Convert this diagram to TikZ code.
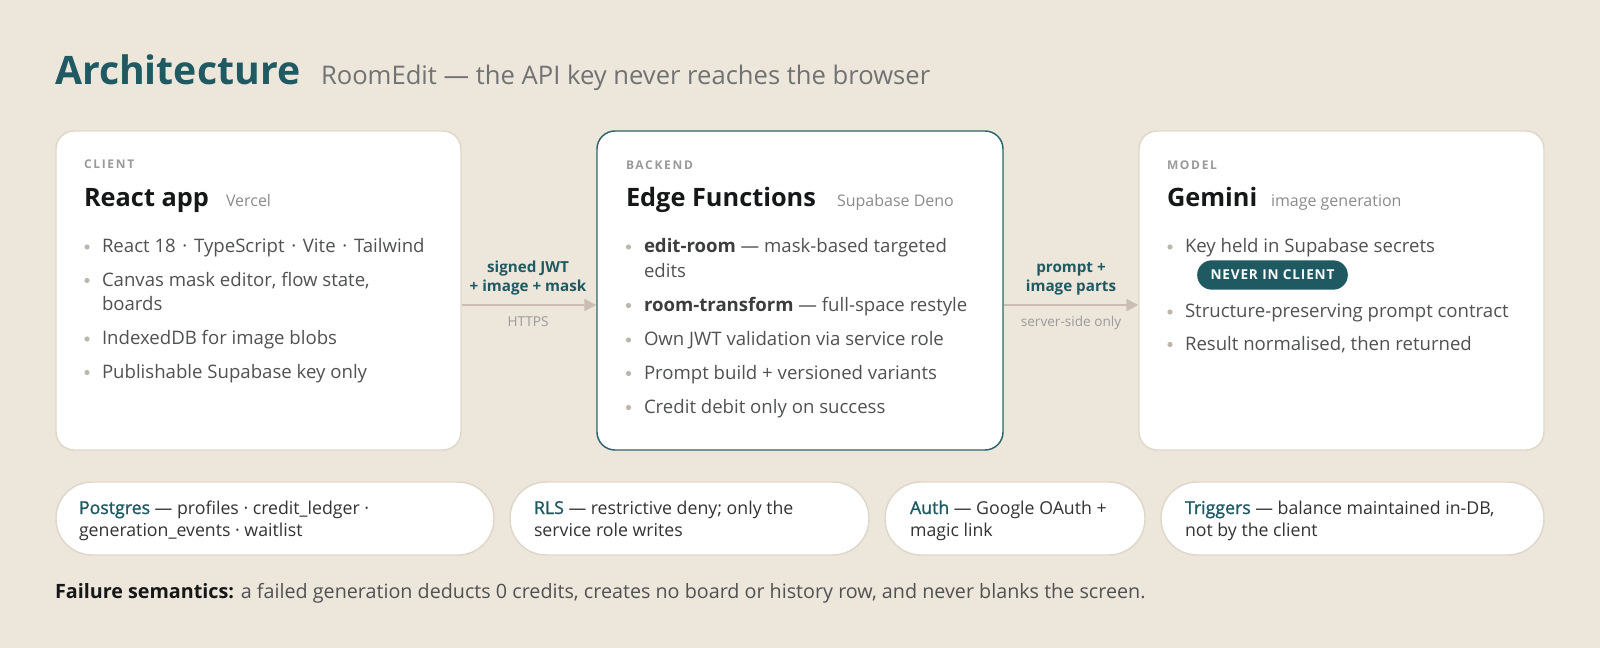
\documentclass[tikz,border=0pt]{standalone}
\usepackage{fontspec}
\setmainfont{Open Sans}
\newfontfamily\capsfont[LetterSpace=14]{Open Sans}
\newfontfamily\pillfont[LetterSpace=6]{Open Sans}
\usetikzlibrary{arrows.meta,fit}
\definecolor{bg}{HTML}{EDE6DB}
\definecolor{teal}{HTML}{1F5A63}
\definecolor{cardline}{HTML}{E0D7CB}
\definecolor{backline}{HTML}{2E646D}
\definecolor{arrowc}{HTML}{C9BEB1}
\definecolor{ink}{HTML}{151718}
\definecolor{body}{HTML}{505252}
\definecolor{soft}{HTML}{8A8C8C}
\definecolor{subc}{HTML}{707273}
\definecolor{labelc}{HTML}{9A9A9A}
\definecolor{dotc}{HTML}{BDB6AC}
\definecolor{pilltext}{HTML}{333333}
\tikzset{
  card/.style={draw=cardline, line width=1.1pt, fill=white, rounded corners=13.5pt, inner sep=0pt},
  cardhi/.style={card, draw=backline, line width=1.1pt},
  pillbox/.style={draw=cardline, line width=1.1pt, fill=white, rounded corners=27pt, inner sep=0pt},
  txt/.style={anchor=base west, inner sep=0pt, outer sep=0pt},
  ctxt/.style={anchor=base, inner sep=0pt, outer sep=0pt},
  kicker/.style={txt, font=\capsfont\bfseries\fontsize{9}{11}\selectfont, text=labelc},
  ctitle/.style={txt, font=\bfseries\fontsize{19}{23}\selectfont, text=ink},
  csub/.style={txt, font=\fontsize{12}{14}\selectfont, text=soft},
  btxt/.style={txt, font=\fontsize{13.95}{16}\selectfont, text=body},
  ptxt/.style={txt, font=\fontsize{13.3}{16}\selectfont, text=pilltext},
  alab/.style={ctxt, font=\bfseries\fontsize{11.4}{13}\selectfont, text=teal},
  asub/.style={ctxt, font=\fontsize{10.2}{12}\selectfont, text=labelc},
  flow/.style={draw=arrowc, line width=1.7pt, -{Triangle[length=9pt,width=9pt]}},
  dot/.style={fill=dotc},
}
\newcommand{\lead}[1]{\textcolor{teal}{\addfontfeatures{FakeBold=1.2}#1}}
\newcommand{\md}{\hspace{0.36em}·\hspace{0.36em}}
\begin{document}
\begin{tikzpicture}[x=0.75pt,y=-0.75pt]
\useasboundingbox[fill=bg] (0,0) rectangle (1600,648);

% title
\node[txt, font=\bfseries\fontsize{29.4}{34}\selectfont, text=teal] (title) at (55,85) {Architecture};
\node[txt, font=\fontsize{19.2}{23}\selectfont, text=subc] (subtitle) at (321,85) {RoomEdit — the API key never reaches the browser};

% cards
\node[card, fit={(56,131) (461,450)}] (client) {};
\node[cardhi, fit={(597,131) (1003,450)}] (backend) {};
\node[card, fit={(1139,131) (1544,450)}] (model) {};

% client
\node[kicker] (k1) at (84,169) {CLIENT};
\node[ctitle] (t1) at (84,207) {React app};
\node[csub] (s1) at (226,207) {Vercel};
\foreach \y in {247,280.5,339,372.5}{\fill[dot] (87,\y) circle (2.6);}
\node[btxt] (c1) at (102,253) {React 18\md TypeScript\md Vite\md Tailwind};
\node[btxt] (c2) at (102,286.5) {Canvas mask editor, flow state,};
\node[btxt] (c2b) at (102,311) {boards};
\node[btxt] (c3) at (102,345) {IndexedDB for image blobs};
\node[btxt] (c4) at (102,378.5) {Publishable Supabase key only};

% backend
\node[kicker] (k2) at (626,170) {BACKEND};
\node[ctitle] (t2) at (626,207) {Edge Functions};
\node[csub] (s2) at (837,207) {Supabase Deno};
\foreach \y in {247,305.5,340,373.5,407.5}{\fill[dot] (628.5,\y) circle (2.6);}
\node[btxt] (b1) at (644,253) {\textcolor{body!75!black}{\bfseries edit-room} — mask-based targeted};
\node[btxt] (b1b) at (644,278) {edits};
\node[btxt] (b2) at (644,311.5) {\textcolor{body!75!black}{\bfseries room-transform} — full-space restyle};
\node[btxt] (b3) at (644,346) {Own JWT validation via service role};
\node[btxt] (b4) at (644,379.5) {Prompt build + versioned variants};
\node[btxt] (b5) at (644,413.5) {Credit debit only on success};

% model
\node[kicker] (k3) at (1167,170) {MODEL};
\node[ctitle] (t3) at (1167,207) {Gemini};
\node[csub] (s3) at (1271,207) {image generation};
\foreach \y in {247,312,344.5}{\fill[dot] (1170,\y) circle (2.6);}
\node[btxt] (m1) at (1185,253) {Key held in Supabase secrets};
\node[fill=teal, rounded corners=11pt, minimum width=113pt, minimum height=22pt, inner sep=0pt,
      font=\pillfont\bfseries\fontsize{10.2}{12}\selectfont, text=white] (never) at (1272.5,275) {NEVER IN CLIENT};
\node[btxt] (m2) at (1185,318) {Structure-preserving prompt contract};
\node[btxt] (m3) at (1185,350.5) {Result normalised, then returned};

% arrows
\coordinate (ay) at (0,305);
\draw[flow] (client.east |- ay) -- (backend.west |- ay);
\draw[flow] (backend.east |- ay) -- (model.west |- ay);
\node[alab] (l1a) at (528,273) {signed JWT};
\node[alab] (l1b) at (528,292) {+ image + mask};
\node[asub] (l1c) at (528,327) {HTTPS};
\node[alab] (l2a) at (1071,273) {prompt +};
\node[alab] (l2b) at (1071,292) {image parts};
\node[asub] (l2c) at (1071,327) {server-side only};

% bottom pills
\node[pillbox, fit={(56,482) (494,555)}] (p1) {};
\node[pillbox, fit={(510,482) (869,555)}] (p2) {};
\node[pillbox, fit={(885,482) (1145,555)}] (p3) {};
\node[pillbox, fit={(1161,482) (1544,555)}] (p4) {};
\node[ptxt] (p1a) at (79,514) {\lead{Postgres} — profiles · credit\_ledger ·};
\node[ptxt] (p1b) at (79,537) {generation\_events · waitlist};
\node[ptxt] (p2a) at (534,514) {\lead{RLS} — restrictive deny; only the};
\node[ptxt] (p2b) at (534,537) {service role writes};
\node[ptxt] (p3a) at (910,514) {\lead{Auth} — Google OAuth +};
\node[ptxt] (p3b) at (910,537) {magic link};
\node[ptxt] (p4a) at (1185,514) {\lead{Triggers} — balance maintained in-DB,};
\node[ptxt] (p4b) at (1185,537) {not by the client};

% footer
\node[txt, font=\fontsize{14.8}{17}\selectfont, text=body] (foot) at (55,598)
  {\textcolor{ink}{\bfseries Failure semantics:} a failed generation deducts 0 credits, creates no board or history row, and never blanks the screen.};
\end{tikzpicture}
\end{document}
